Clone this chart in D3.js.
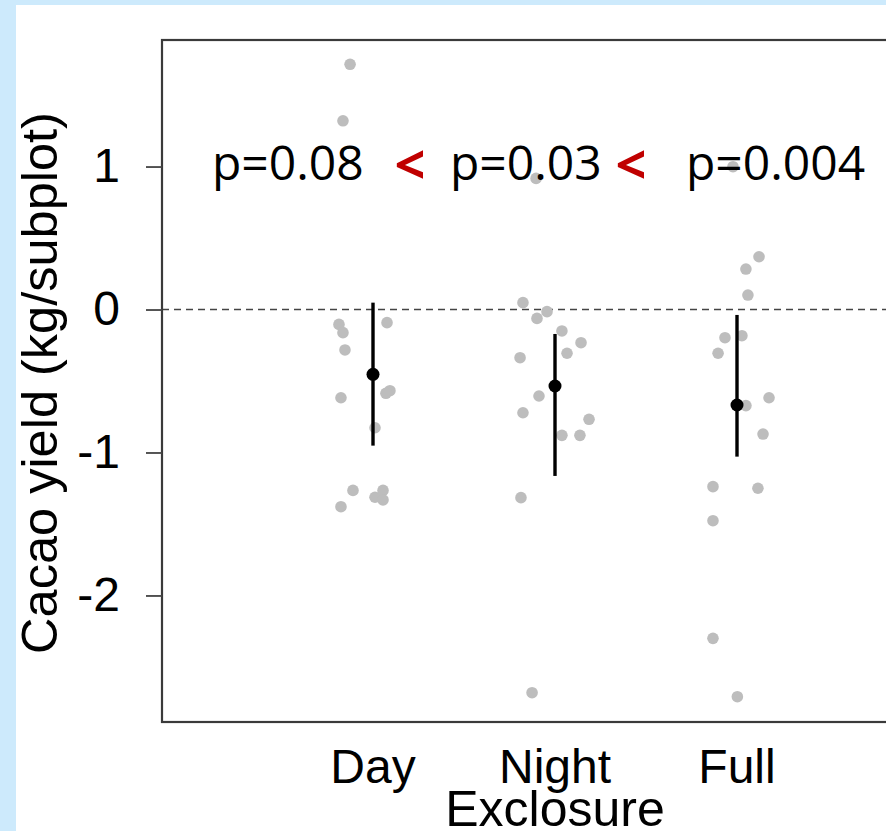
<!DOCTYPE html>
<html>
<head>
<meta charset="utf-8">
<script src="https://cdn.jsdelivr.net/npm/d3@7"></script>
<style>
  body { margin: 0; background: #cdeafc; }
  svg { display: block; }
</style>
</head>
<body>
<script>
const W = 886
const H = 831

// treatments
const categories = ["Day", "Night", "Full"]

// raw subplot values (kg/subplot)
const dayValues = [1.715, 1.32, -0.092, -0.104, -0.162, -0.283, -0.568, -0.586, -0.617, -0.827, -1.265, -1.313, -1.265, -1.332, -1.379]
const nightValues = [0.917, 0.048, -0.062, -0.015, -0.150, -0.232, -0.306, -0.337, -0.605, -0.722, -0.768, -0.880, -0.880, -1.316, -2.68]
const fullValues = [0.999, 0.369, 0.283, 0.101, -0.183, -0.197, -0.306, -0.617, -0.672, -0.871, -1.239, -1.250, -1.477, -2.30, -2.708]

// horizontal jitter of each point, in category units
const dayJitter = [-0.126, -0.165, 0.077, -0.187, -0.165, -0.154, 0.093, 0.071, -0.176, 0.011, -0.11, 0.011, 0.055, 0.055, -0.176]
const nightJitter = [-0.104, -0.176, -0.099, -0.044, 0.038, 0.143, 0.066, -0.192, -0.088, -0.176, 0.187, 0.038, 0.137, -0.187, -0.126]
const fullJitter = [-0.022, 0.121, 0.049, 0.060, 0.027, -0.066, -0.104, 0.176, 0.049, 0.143, -0.132, 0.115, -0.132, -0.132, 0.002]

// model estimates with intervals
const means = [-0.453, -0.535, -0.668]
const lower = [-0.952, -1.164, -1.029]
const upper = [0.048, -0.171, -0.038]

const yTicks = [-2, -1, 0, 1]
const pLabels = ["p=0.08", "p=0.03", "p=0.004"]
const yTitle = "Cacao yield (kg/subplot)"
const xTitle = "Exclosure"

const svg = d3.select("body")
	.append("svg")
	.attr("width", W)
	.attr("height", H)

// white panel on the blue page
svg.append("rect")
	.attr("x", 16)
	.attr("y", 5)
	.attr("width", W - 16)
	.attr("height", H - 5)
	.attr("fill", "white")

const box = { left: 162, top: 40, right: 960, bottom: 722 }

let xScale = d3.scaleLinear()
	.domain([0, 2])
	.range([373, 737])

let yScale = d3.scaleLinear()
	.domain([-2.885, 1.885])
	.range([box.bottom, box.top])

let groups = [dayValues, nightValues, fullValues]
let jitters = [dayJitter, nightJitter, fullJitter]

let points = []
groups.forEach((vals, i) => {
	vals.forEach((v, j) => points.push({ g: i, v: v, dx: jitters[i][j] }))
})

// zero line
svg.append("line")
	.attr("x1", box.left)
	.attr("x2", W)
	.attr("y1", yScale(0))
	.attr("y2", yScale(0))
	.attr("stroke", "#444")
	.attr("stroke-width", 1.6)
	.attr("stroke-dasharray", "7,5")

// raw points
svg.selectAll("circle.raw")
	.data(points)
	.enter()
	.append("circle")
	.attr("class", "raw")
	.attr("cx", d => xScale(d.g + d.dx))
	.attr("cy", d => yScale(d.v))
	.attr("r", 5.8)
	.attr("fill", "#bdbdbd")

// intervals
svg.selectAll("line.ci")
	.data(means)
	.enter()
	.append("line")
	.attr("class", "ci")
	.attr("x1", (d, i) => xScale(i))
	.attr("x2", (d, i) => xScale(i))
	.attr("y1", (d, i) => yScale(upper[i]))
	.attr("y2", (d, i) => yScale(lower[i]))
	.attr("stroke", "black")
	.attr("stroke-width", 3.4)

svg.selectAll("circle.mean")
	.data(means)
	.enter()
	.append("circle")
	.attr("class", "mean")
	.attr("cx", (d, i) => xScale(i))
	.attr("cy", d => yScale(d))
	.attr("r", 6.5)
	.attr("fill", "black")

// frame
svg.append("rect")
	.attr("x", box.left)
	.attr("y", box.top)
	.attr("width", box.right - box.left)
	.attr("height", box.bottom - box.top)
	.attr("fill", "none")
	.attr("stroke", "#3a3a3a")
	.attr("stroke-width", 2.2)

// y axis
let yAxis = d3.axisLeft(yScale)
	.tickValues(yTicks)
	.tickSize(16)
	.tickPadding(26)
	.tickFormat(d3.format("d"))

let yg = svg.append("g")
	.attr("transform", "translate(" + box.left + ",0)")
	.call(yAxis)
yg.select(".domain").remove()
yg.selectAll(".tick line").attr("stroke", "#444").attr("stroke-width", 1.8)
yg.selectAll(".tick text")
	.attr("font-family", "'Liberation Sans', Arial, sans-serif")
	.attr("font-size", 48)
	.attr("fill", "black")
	.text(d => d < 0 ? "-" + Math.abs(d) : d)

// category labels
svg.selectAll("text.cat")
	.data(categories)
	.enter()
	.append("text")
	.attr("class", "cat")
	.attr("x", (d, i) => xScale(i))
	.attr("y", 783)
	.attr("text-anchor", "middle")
	.attr("font-family", "'Liberation Sans', Arial, sans-serif")
	.attr("font-size", 48)
	.text(d => d)

svg.append("text")
	.attr("x", xScale(1))
	.attr("y", 826)
	.attr("text-anchor", "middle")
	.attr("font-family", "'Liberation Sans', Arial, sans-serif")
	.attr("font-size", 50)
	.text(xTitle)

svg.append("text")
	.attr("transform", "translate(57,383) rotate(-90)")
	.attr("text-anchor", "middle")
	.attr("font-family", "'Liberation Sans', Arial, sans-serif")
	.attr("font-size", 50.5)
	.text(yTitle)

// p-value notes
const pX = [212, 450, 686]
svg.selectAll("text.p")
	.data(pLabels)
	.enter()
	.append("text")
	.attr("class", "p")
	.attr("x", (d, i) => pX[i])
	.attr("y", 180)
	.attr("font-family", "'Open Sans', sans-serif")
	.attr("font-size", 48)
	.attr("fill", "black")
	.text(d => d)

const ltX = [410, 631]
svg.selectAll("text.lt")
	.data(ltX)
	.enter()
	.append("text")
	.attr("class", "lt")
	.attr("x", d => d)
	.attr("y", 184)
	.attr("text-anchor", "middle")
	.attr("font-family", "'Open Sans', sans-serif")
	.attr("font-weight", "bold")
	.attr("font-size", 54)
	.attr("fill", "#c00000")
	.text("<")
</script>
</body>
</html>
